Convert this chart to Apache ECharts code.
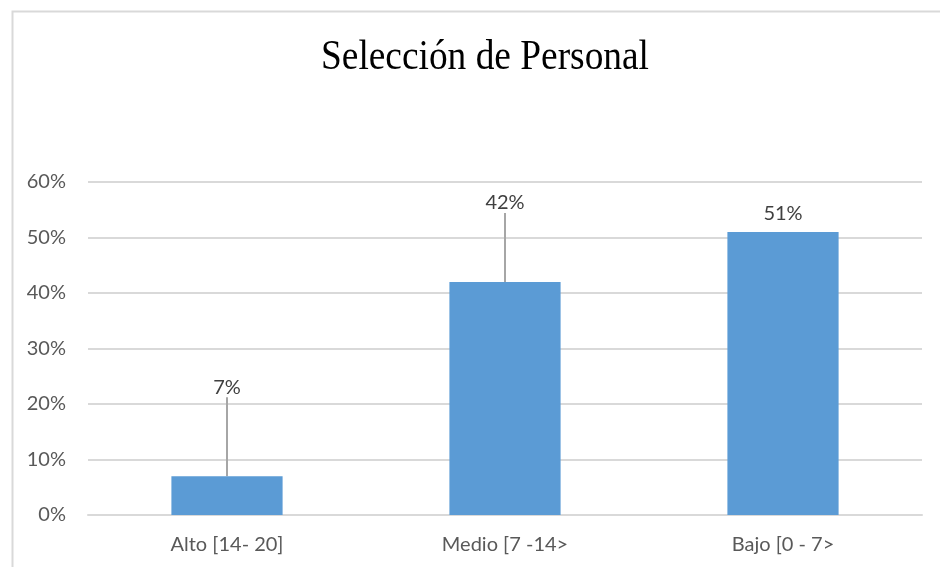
<!DOCTYPE html>
<html>
<head>
<meta charset="utf-8">
<style>
  html, body { margin: 0; padding: 0; background: #fff; }
  #chart { width: 940px; height: 567px; }
</style>
<script src="https://cdn.jsdelivr.net/npm/echarts@6/dist/echarts.min.js"></script>
</head>
<body>
<div id="chart"></div>
<script>
// Categories and percentages
const categories = ['Alto [14- 20]', 'Medio [7 -14>', 'Bajo [0 - 7>'];
const values = [7, 42, 51];
const yTicks = { min: 0, max: 60, interval: 10 };

// How far (px) each value label is lifted above its bar
const labelLift = [71, 61, 0];

const chart = echarts.init(document.getElementById('chart'));
const textFont = 'Lato, "Open Sans", sans-serif';

// Lifted labels get a leader line back to their bar
const barData = values.map((v, i) => ({
  value: v,
  labelLine: { show: labelLift[i] > 0 }
}));

chart.setOption({
  backgroundColor: '#ffffff',
  animation: false,
  graphic: [{
    type: 'rect',
    shape: { x: 12.5, y: 11.5, width: 1000, height: 1000 },
    style: { fill: 'none', stroke: '#d9d9d9', lineWidth: 2 },
    silent: true
  }, {
    // Chart title, drawn slightly condensed
    type: 'text',
    x: 485,
    y: 58,
    scaleX: 0.89,
    style: {
      text: 'Selección de Personal',
      font: '42px "Liberation Serif", "Times New Roman", serif',
      fill: '#000000',
      align: 'center',
      verticalAlign: 'middle'
    },
    silent: true
  }],
  grid: { left: 88, right: 18, top: 182, bottom: 52 },
  xAxis: {
    type: 'category',
    data: categories,
    axisLine: { show: true, lineStyle: { color: '#d9d9d9', width: 2 } },
    axisTick: { show: false },
    axisLabel: { color: '#595959', fontFamily: textFont, fontSize: 20, margin: 20 }
  },
  yAxis: {
    type: 'value',
    min: yTicks.min,
    max: yTicks.max,
    interval: yTicks.interval,
    axisLine: { show: false },
    axisTick: { show: false },
    splitLine: { lineStyle: { color: '#d9d9d9', width: 2 } },
    axisLabel: {
      color: '#595959', fontFamily: textFont, fontSize: 20, margin: 22,
      formatter: v => v + '%'
    }
  },
  series: [{
    type: 'bar',
    data: barData,
    barWidth: '40%',
    itemStyle: { color: '#5b9bd5' },
    label: {
      show: true,
      position: 'top',
      distance: 8,
      color: '#404040',
      fontFamily: textFont,
      fontSize: 20,
      formatter: p => p.value + '%'
    },
    labelLine: {
      show: true,
      lineStyle: { color: '#a6a6a6', width: 2 }
    },
    labelLayout: p => ({ dy: -labelLift[p.dataIndex] })
  }]
});
</script>
</body>
</html>
